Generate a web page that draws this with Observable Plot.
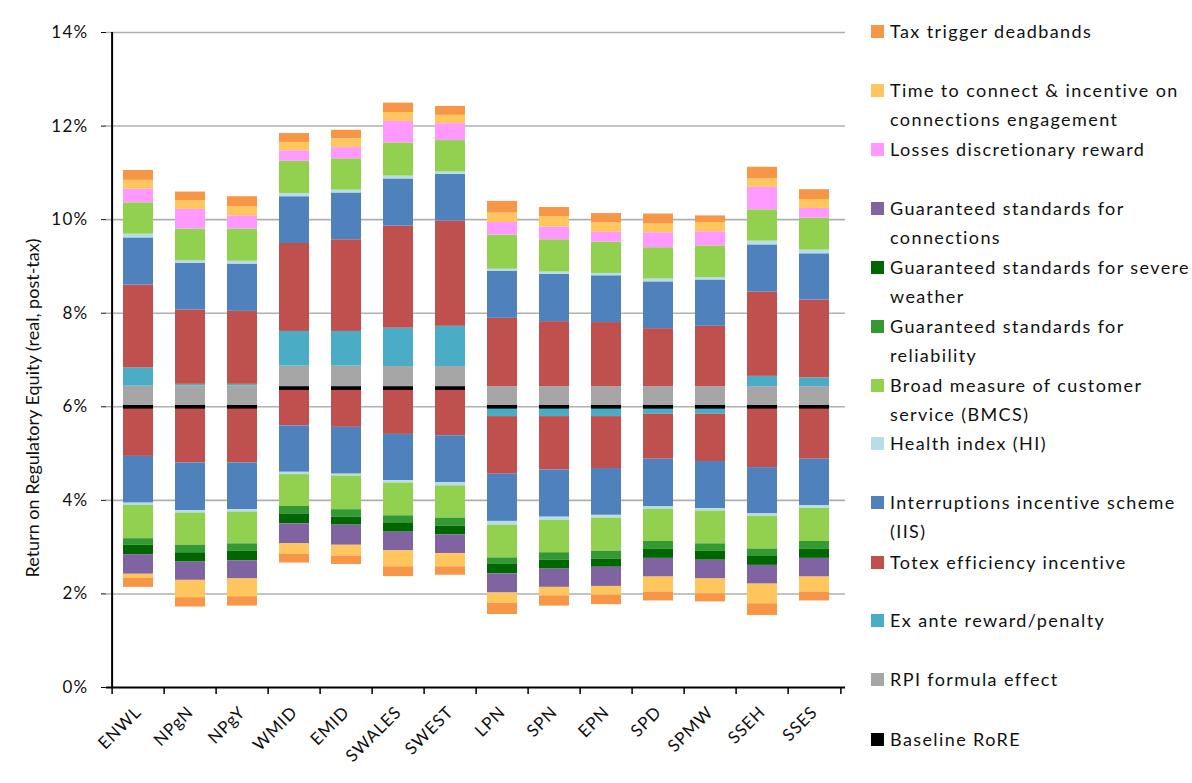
<!DOCTYPE html>
<html>
<head>
<meta charset="utf-8">
<script src="https://cdn.jsdelivr.net/npm/d3@7"></script>
<script src="https://cdn.jsdelivr.net/npm/@observablehq/plot@0.6"></script>
<style>
  html, body { margin: 0; padding: 0; background: #fff; overflow: hidden; }
  #wrap { position: relative; width: 1192px; height: 783px; overflow: hidden; font-family: Lato, "Open Sans", sans-serif; color: #111; }
  #chart { position: absolute; left: 0; top: 0; }
  #chart g[aria-label="y-axis tick label"] text { letter-spacing: 1.3px; }
  #chart g[aria-label="x-axis tick label"] text { letter-spacing: 0.8px; }
  .item { position: absolute; left: 871px; font-size: 18px; line-height: 29px; white-space: nowrap; letter-spacing: 1.4px; }
  .item .sw { position: absolute; left: 0; top: 8px; width: 13px; height: 13px; }
  .item .tx { position: absolute; left: 19px; top: 0; }
</style>
</head>
<body>
<div id="wrap"><div id="chart"></div></div>
<script>
// Distribution network operators
const dnos = ["ENWL", "NPgN", "NPgY", "WMID", "EMID", "SWALES", "SWEST", "LPN", "SPN", "EPN", "SPD", "SPMW", "SSEH", "SSES"];

// Baseline RoRE (%), real post-tax
const baseline = [6.0, 6.0, 6.0, 6.4, 6.4, 6.4, 6.4, 6.0, 6.0, 6.0, 6.0, 6.0, 6.0, 6.0];

// Upside / downside contributions (percentage points of RoRE)
const rpiEffect = [0.44, 0.45, 0.45, 0.47, 0.47, 0.46, 0.46, 0.43, 0.43, 0.43, 0.43, 0.43, 0.43, 0.43];
const exAnte = [0.39, 0.03, 0.03, 0.74, 0.74, 0.82, 0.86, -0.21, -0.21, -0.21, -0.16, -0.16, 0.22, 0.19];
const totexUp = [1.77, 1.59, 1.56, 1.88, 1.96, 2.18, 2.25, 1.46, 1.39, 1.37, 1.24, 1.29, 1.80, 1.66];
const totexDown = [-1.06, -1.20, -1.20, -0.81, -0.84, -0.99, -1.02, -1.23, -1.14, -1.11, -0.96, -1.01, -1.30, -1.12];
const iisUp = [1.01, 1.00, 1.01, 1.00, 1.00, 1.01, 1.00, 1.01, 1.01, 1.00, 1.00, 0.99, 1.01, 0.99];
const iisDown = [-1.00, -1.02, -1.00, -0.99, -1.00, -0.99, -1.00, -1.01, -1.01, -1.00, -1.02, -1.01, -0.99, -0.99];
const hiUp = [0.08, 0.05, 0.06, 0.07, 0.06, 0.06, 0.05, 0.04, 0.05, 0.05, 0.06, 0.05, 0.08, 0.08];
const hiDown = [-0.05, -0.05, -0.05, -0.05, -0.04, -0.05, -0.07, -0.08, -0.07, -0.06, -0.05, -0.05, -0.05, -0.06];
const bmcsUp = [0.67, 0.68, 0.69, 0.69, 0.67, 0.71, 0.67, 0.73, 0.69, 0.67, 0.67, 0.68, 0.67, 0.68];
const bmcsDown = [-0.71, -0.69, -0.68, -0.68, -0.72, -0.70, -0.69, -0.70, -0.69, -0.71, -0.69, -0.70, -0.70, -0.71];
const gsReliability = [-0.14, -0.16, -0.16, -0.16, -0.16, -0.15, -0.17, -0.14, -0.16, -0.17, -0.16, -0.16, -0.16, -0.16];
const gsSevereWeather = [-0.20, -0.20, -0.20, -0.21, -0.17, -0.20, -0.19, -0.20, -0.19, -0.17, -0.20, -0.19, -0.19, -0.20];
const gsConnections = [-0.42, -0.39, -0.39, -0.43, -0.43, -0.40, -0.40, -0.41, -0.39, -0.41, -0.40, -0.40, -0.40, -0.40];
const losses = [0.29, 0.42, 0.28, 0.22, 0.24, 0.46, 0.36, 0.27, 0.27, 0.21, 0.32, 0.30, 0.48, 0.21];
const ttcUp = [0.19, 0.19, 0.19, 0.18, 0.19, 0.19, 0.18, 0.20, 0.22, 0.20, 0.19, 0.20, 0.18, 0.19];
const ttcDown = [-0.09, -0.37, -0.38, -0.22, -0.23, -0.34, -0.28, -0.22, -0.18, -0.19, -0.32, -0.32, -0.42, -0.32];
const taxUp = [0.21, 0.18, 0.22, 0.19, 0.18, 0.20, 0.19, 0.25, 0.20, 0.20, 0.21, 0.14, 0.25, 0.21];
const taxDown = [-0.19, -0.20, -0.20, -0.19, -0.18, -0.21, -0.18, -0.24, -0.22, -0.20, -0.19, -0.17, -0.25, -0.19];

// Series names, in legend order (top to bottom)
const seriesNames = [
  "Tax trigger deadbands",
  "Time to connect & incentive on connections engagement",
  "Losses discretionary reward",
  "Guaranteed standards for connections",
  "Guaranteed standards for severe weather",
  "Guaranteed standards for reliability",
  "Broad measure of customer service (BMCS)",
  "Health index (HI)",
  "Interruptions incentive scheme (IIS)",
  "Totex efficiency incentive",
  "Ex ante reward/penalty",
  "RPI formula effect",
  "Baseline RoRE"
];
// How each legend entry wraps
const legendLines = [
  ["Tax trigger deadbands"],
  ["Time to connect & incentive on", "connections engagement"],
  ["Losses discretionary reward"],
  ["Guaranteed standards for", "connections"],
  ["Guaranteed standards for severe", "weather"],
  ["Guaranteed standards for", "reliability"],
  ["Broad measure of customer", "service (BMCS)"],
  ["Health index (HI)"],
  ["Interruptions incentive scheme", "(IIS)"],
  ["Totex efficiency incentive"],
  ["Ex ante reward/penalty"],
  ["RPI formula effect"],
  ["Baseline RoRE"]
];
const seriesColors = ["#f79646", "#ffc65e", "#ff99ff", "#8064a2", "#006600", "#339933", "#92d050",
  "#b7dde8", "#4f81bd", "#c0504d", "#4bacc6", "#a6a6a6", "#000000"];
const [TAX, TTC, LOSSES, GSCON, GSSEV, GSREL, BMCS, HI, IIS, TOTEX, EXANTE, RPI] = seriesNames;

// Stack the upside above the baseline and the downside below it
const rows = [];
dnos.forEach((dno, i) => {
  const up = [[RPI, rpiEffect[i]], [EXANTE, exAnte[i]], [TOTEX, totexUp[i]], [IIS, iisUp[i]], [HI, hiUp[i]],
    [BMCS, bmcsUp[i]], [LOSSES, losses[i]], [TTC, ttcUp[i]], [TAX, taxUp[i]]];
  const down = [[EXANTE, exAnte[i]], [TOTEX, totexDown[i]], [IIS, iisDown[i]], [HI, hiDown[i]], [BMCS, bmcsDown[i]],
    [GSREL, gsReliability[i]], [GSSEV, gsSevereWeather[i]], [GSCON, gsConnections[i]], [TTC, ttcDown[i]], [TAX, taxDown[i]]];
  let top = baseline[i], bottom = baseline[i];
  for (const [series, v] of up) if (v > 0) { rows.push({dno, series, y1: top, y2: top + v}); top += v; }
  for (const [series, v] of down) if (v < 0) { rows.push({dno, series, y1: bottom + v, y2: bottom}); bottom += v; }
});
const baseRows = dnos.map((dno, i) => ({dno, value: baseline[i]}));

const W = 860, H = 783, ML = 106, MR = 15, MT = 32, MB = 96;
const step = (W - ML - MR) / dnos.length;

const chart = Plot.plot({
  width: W, height: H,
  marginLeft: ML, marginRight: MR, marginTop: MT, marginBottom: MB,
  style: {fontFamily: "Lato, 'Open Sans', sans-serif", color: "#111", background: "#fff"},
  x: {domain: dnos, paddingInner: 0.43, paddingOuter: 0.215, label: null},
  y: {domain: [0, 14], label: null},
  color: {domain: seriesNames, range: seriesColors},
  marks: [
    Plot.ruleY(d3.range(2, 15, 2), {stroke: "#b0b0b0", strokeWidth: 1.6}),
    Plot.barY(rows, {x: "dno", y1: "y1", y2: "y2", fill: "series"}),
    Plot.tickY(baseRows, {x: "dno", y: "value", stroke: "#000", strokeWidth: 3.6}),
    // axis lines and category boundary ticks
    Plot.ruleY([0], {stroke: "#000", strokeWidth: 2}),
    Plot.ruleX([dnos[0]], {x: d => d, dx: -step / 2, y1: 0, y2: 14, stroke: "#000", strokeWidth: 2}),
    Plot.ruleX(dnos, {x: d => d, dx: -step / 2, y1: 0, y2: -0.15, stroke: "#000", strokeWidth: 1.5}),
    Plot.ruleX([dnos[dnos.length - 1]], {x: d => d, dx: step / 2, y1: 0, y2: -0.15, stroke: "#000", strokeWidth: 1.5}),
    Plot.axisY({ticks: d3.range(0, 15, 2), tickFormat: d => d + "%", tickSize: 5, tickPadding: 13, fontSize: 17, label: null}),
    Plot.axisX({tickSize: 0, tickRotate: -45, tickPadding: 22, fontSize: 17, label: null}),
    Plot.text(["Return on Regulatory Equity (real, post-tax)"], {
      frameAnchor: "left", textAnchor: "middle", rotate: -90, dx: -73, dy: 48, fontSize: 18, fill: "#111"
    })
  ]
});
document.getElementById("chart").appendChild(chart);

// Legend beside the chart
const legendTop = [31, 90, 149, 208, 267, 326, 385, 443, 502, 562, 620, 679, 739];
const wrap = document.getElementById("wrap");
seriesNames.forEach((name, k) => {
  const item = document.createElement("div");
  item.className = "item";
  item.style.top = (legendTop[k] - 14.5) + "px";
  const sw = document.createElement("span");
  sw.className = "sw";
  sw.style.background = seriesColors[k];
  const tx = document.createElement("span");
  tx.className = "tx";
  legendLines[k].forEach((line, j) => {
    if (j) tx.appendChild(document.createElement("br"));
    tx.appendChild(document.createTextNode(line));
  });
  item.appendChild(sw);
  item.appendChild(tx);
  wrap.appendChild(item);
});
</script>
</body>
</html>
